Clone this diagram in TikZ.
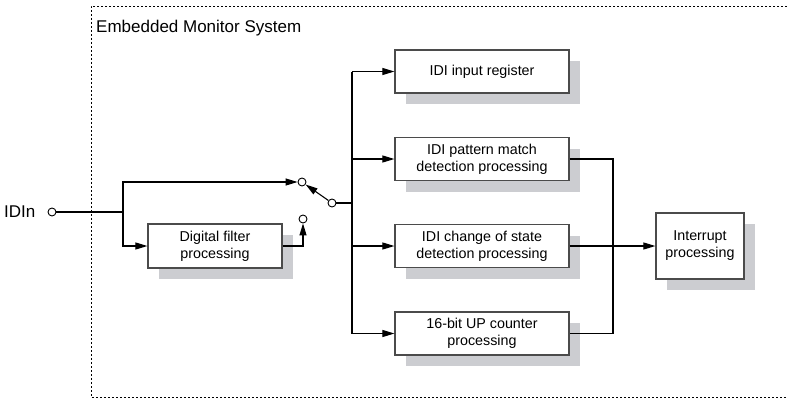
\documentclass[tikz,border=0pt]{standalone}
\usepackage{fontspec}
\setmainfont{Liberation Sans}
\usetikzlibrary{arrows.meta,shadows,calc}
\definecolor{shadowgray}{RGB}{204,205,209}
\definecolor{boxborder}{RGB}{75,75,75}
\begin{document}
\begin{tikzpicture}[x=1pt,y=-1pt,
  proc/.style={draw=boxborder, line width=1.2pt, fill=white, align=center,
    font=\fontsize{14.3}{17}\selectfont, inner sep=0pt,
    drop shadow={shadow xshift=11pt, shadow yshift=-11pt, fill=shadowgray, opacity=1}},
  wide/.style={minimum width=174pt, minimum height=43pt},
  conn/.style={line width=1.1pt, draw=black},
  arr/.style={conn, -{Triangle[length=12pt,width=7pt]}},
  term/.style={circle, draw=black, line width=0.9pt, fill=white, minimum size=8pt, inner sep=0pt},
  frame/.style={dash pattern=on 2.4pt off 1.6pt, line width=1pt},
  lbl/.style={anchor=west, inner sep=0pt, font=\fontsize{17}{20}\selectfont}]
\useasboundingbox (0,0) rectangle (787,399);
\draw[frame] (787,6) -- (91,6) -- (91,397) -- (787,397);
\node[lbl] (title) at (96,28) {Embedded Monitor System};
\node[lbl] (idin) at (4,212) {IDIn};
\node[term] (c0) at (52,212) {};
\node[proc, minimum width=134pt, minimum height=44pt] (filt) at (215,246) {Digital filter\\processing};
\node[term] (c1) at (302,182) {};
\node[term] (c2) at (303,219) {};
\node[term] (c3) at (332,203) {};
\node[proc, wide] (reg) at (482,71.5) {IDI input register};
\node[proc, wide] (pat) at (482,159) {IDI pattern match\\detection processing};
\node[proc, wide] (cos) at (482,246) {IDI change of state\\detection processing};
\node[proc, wide] (cnt) at (482,333.5) {16-bit UP counter\\processing};
\node[proc, minimum width=88pt, minimum height=66pt] (intr) at (700,246) {Interrupt\\processing};
\coordinate (j0) at (123,212);
\coordinate (bt) at (352,71.5);
\coordinate (bb) at (352,333.5);
\coordinate (bm) at (352,203);
\coordinate (rt) at (613,159);
\draw[conn] (c0) -- (j0);
\draw[arr] (j0) |- (c1);
\draw[arr] (j0) |- (filt);
\draw[arr] (filt) -| (c2);
\draw[arr] (c3) -- (c1);
\draw[conn] (c3) -- (bm);
\draw[conn] (bt) -- (bb);
\draw[arr] (bt) -- (reg);
\draw[arr] (bt |- pat) -- (pat);
\draw[arr] (bt |- cos) -- (cos);
\draw[arr] (bb) -- (cnt);
\draw[conn] (pat.east) -- (rt) |- (cnt.east);
\draw[arr] (cos) -- (intr);
\end{tikzpicture}
\end{document}
